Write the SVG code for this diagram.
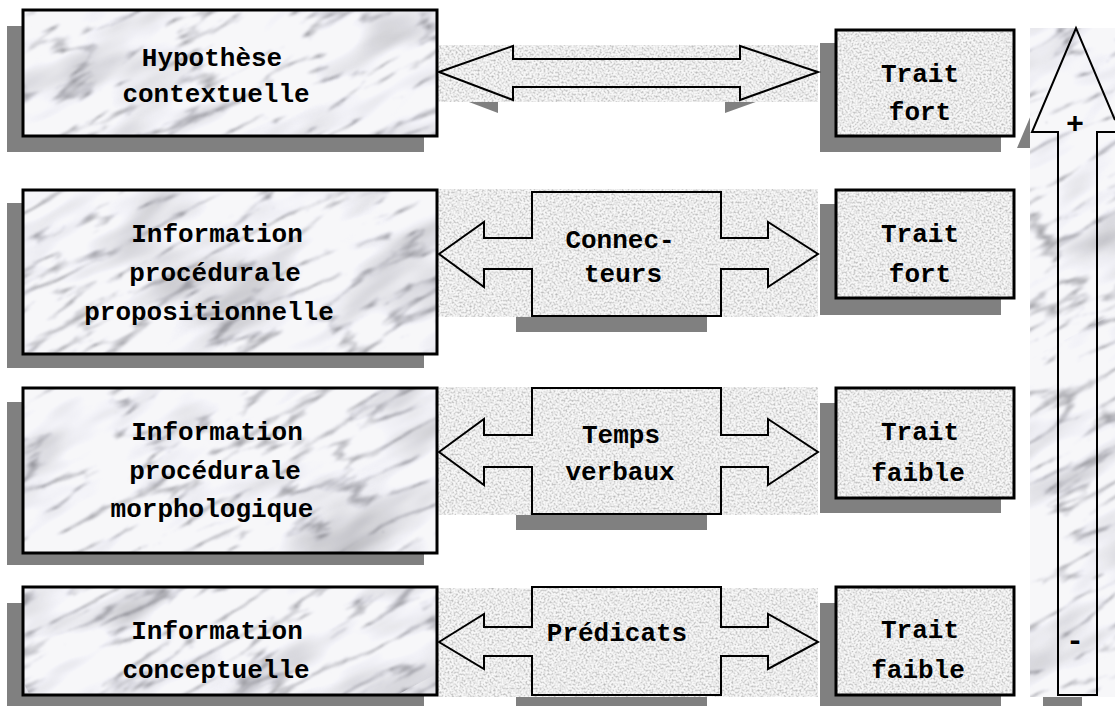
<svg xmlns="http://www.w3.org/2000/svg" width="1115" height="706" viewBox="0 0 1115 706">
  <defs>
    <!-- speckled stone texture, one tile covering the whole canvas -->
    <filter id="graniteF" filterUnits="userSpaceOnUse" x="0" y="0" width="1115" height="706" color-interpolation-filters="sRGB">
      <feTurbulence type="fractalNoise" baseFrequency="0.5" numOctaves="3" seed="7" result="n"/>
      <feColorMatrix in="n" type="matrix" values="0.6 0 0 0 0.65  0.6 0 0 0 0.65  0.6 0 0 0 0.65  0 0 0 0 1" result="g"/>
      <feComponentTransfer in="g">
        <feFuncR type="linear" slope="0.97" intercept="0"/>
        <feFuncG type="linear" slope="0.97" intercept="0"/>
        <feFuncB type="linear" slope="0.97" intercept="0"/>
      </feComponentTransfer>
    </filter>
    <pattern id="granite" patternUnits="userSpaceOnUse" x="0" y="0" width="1115" height="706">
      <rect width="1115" height="706" filter="url(#graniteF)"/>
    </pattern>
    <!-- veined marble texture, one rotated tile larger than the canvas -->
    <filter id="marbleF" filterUnits="userSpaceOnUse" x="0" y="0" width="1700" height="1500" color-interpolation-filters="sRGB">
      <feTurbulence type="turbulence" baseFrequency="0.009 0.04" numOctaves="4" seed="11" result="t"/>
      <feColorMatrix in="t" type="matrix" values="1.8 0 0 0 0.62  1.8 0 0 0 0.62  1.8 0 0 0 0.63  0 0 0 0 1" result="v0"/>
      <feGaussianBlur in="v0" stdDeviation="1.2" result="v"/>
      <feTurbulence type="fractalNoise" baseFrequency="0.007 0.022" numOctaves="3" seed="4" result="b0"/>
      <feColorMatrix in="b0" type="matrix" values="0.55 0 0 0 0.72  0.55 0 0 0 0.72  0.55 0 0 0 0.73  0 0 0 0 1" result="b"/>
      <feComposite in="v" in2="b" operator="arithmetic" k1="1" k2="0" k3="0" k4="0" result="m"/>
      <feComponentTransfer in="m">
        <feFuncR type="linear" slope="0.95" intercept="0.02"/>
        <feFuncG type="linear" slope="0.95" intercept="0.02"/>
        <feFuncB type="linear" slope="0.95" intercept="0.03"/>
        <feFuncA type="linear" slope="0" intercept="1"/>
      </feComponentTransfer>
    </filter>
    <pattern id="marble" patternUnits="userSpaceOnUse" x="-300" y="-700" width="1700" height="1500" patternTransform="rotate(-28)">
      <rect width="1700" height="1500" filter="url(#marbleF)"/>
    </pattern>
    <style>
      .shadow { fill: #808080; stroke: none; }
      .mbox { fill: url(#marble); stroke: #000; stroke-width: 3; }
      .gbox { fill: url(#granite); stroke: #000; stroke-width: 3; }
      .strip { fill: url(#granite); stroke: none; }
      .arrow { fill: none; stroke: #000; stroke-width: 2; stroke-linejoin: miter; }
      .lbl { font-family: "Liberation Mono", "Courier New", monospace; font-weight: bold; font-size: 26px; fill: #000; text-anchor: middle; }
      .sign { font-family: "Liberation Mono", "Courier New", monospace; font-weight: bold; font-size: 30px; fill: #000; text-anchor: middle; }
    </style>
  </defs>

  <!-- drop shadows -->
  <g id="shadows">
    <rect class="shadow" x="7" y="26" width="417" height="126"/>
    <rect class="shadow" x="7" y="203" width="417" height="165"/>
    <rect class="shadow" x="7" y="402" width="417" height="163"/>
    <rect class="shadow" x="7" y="603" width="417" height="103"/>
    <rect class="shadow" x="820" y="43" width="181" height="109"/>
    <rect class="shadow" x="820" y="204" width="181" height="111"/>
    <rect class="shadow" x="820" y="403" width="181" height="110"/>
    <rect class="shadow" x="820" y="603" width="181" height="103"/>
    <path class="shadow" d="M424,85 L498,59 L498,72 L725,72 L725,59 L803,85 L725,113 L725,100 L498,100 L498,113 Z"/>
    <rect class="shadow" x="516" y="208" width="191" height="124"/>
    <rect class="shadow" x="516" y="404" width="191" height="126"/>
    <rect class="shadow" x="516" y="603" width="191" height="103"/>
    <path class="shadow" d="M1061,44 L1105,148 L1082,148 L1082,711 L1043,711 L1043,148 L1017,148 Z"/>
  </g>

  <!-- stone bands behind the connectors -->
  <g id="bands">
    <rect class="strip" x="437" y="45" width="381" height="57"/>
    <rect class="strip" x="437" y="189" width="381" height="128"/>
    <rect class="strip" x="437" y="387" width="381" height="128"/>
    <rect class="strip" x="437" y="588" width="381" height="109"/>
  </g>

  <!-- left column -->
  <g id="hypothese-contextuelle">
    <rect class="mbox" x="23" y="10" width="414" height="126"/>
    <text class="lbl" x="212" y="66">Hypothèse</text>
    <text class="lbl" x="216" y="102">contextuelle</text>
  </g>
  <g id="info-propositionnelle">
    <rect class="mbox" x="23" y="190" width="414" height="164"/>
    <text class="lbl" x="217" y="242">Information</text>
    <text class="lbl" x="215" y="281">procédurale</text>
    <text class="lbl" x="209" y="320">propositionnelle</text>
  </g>
  <g id="info-morphologique">
    <rect class="mbox" x="23" y="388" width="414" height="165"/>
    <text class="lbl" x="217" y="440">Information</text>
    <text class="lbl" x="215" y="479">procédurale</text>
    <text class="lbl" x="212" y="517">morphologique</text>
  </g>
  <g id="info-conceptuelle">
    <rect class="mbox" x="23" y="587" width="414" height="108"/>
    <text class="lbl" x="217" y="639">Information</text>
    <text class="lbl" x="216" y="678">conceptuelle</text>
  </g>

  <!-- right column -->
  <g id="trait-fort-1">
    <rect class="gbox" x="836" y="30" width="178" height="106"/>
    <text class="lbl" x="920" y="82">Trait</text>
    <text class="lbl" x="920" y="120">fort</text>
  </g>
  <g id="trait-fort-2">
    <rect class="gbox" x="836" y="190" width="178" height="108"/>
    <text class="lbl" x="920" y="242">Trait</text>
    <text class="lbl" x="920" y="282">fort</text>
  </g>
  <g id="trait-faible-1">
    <rect class="gbox" x="836" y="388" width="178" height="110"/>
    <text class="lbl" x="920" y="440">Trait</text>
    <text class="lbl" x="918" y="481">faible</text>
  </g>
  <g id="trait-faible-2">
    <rect class="gbox" x="836" y="587" width="178" height="108"/>
    <text class="lbl" x="920" y="638">Trait</text>
    <text class="lbl" x="918" y="678">faible</text>
  </g>

  <!-- double arrows between the columns -->
  <g id="connectors">
    <path class="arrow" d="M439,72 L513,46 L513,59 L740,59 L740,46 L818,72 L740,100 L740,87 L513,87 L513,100 Z"/>
    <path class="arrow" d="M439,254 L484,222 L484,238 L532,238 L532,192 L721,192 L721,238 L768,238 L768,222 L818,254 L768,287 L768,269 L721,269 L721,316 L532,316 L532,269 L484,269 L484,287 Z"/>
    <path class="arrow" d="M439,452 L484,419 L484,435 L532,435 L532,388 L721,388 L721,435 L768,435 L768,419 L818,452 L768,485 L768,467 L721,467 L721,514 L532,514 L532,467 L484,467 L484,485 Z"/>
    <path class="arrow" d="M439,642 L484,614 L484,627 L532,627 L532,587 L721,587 L721,627 L768,627 L768,614 L818,642 L768,669 L768,656 L721,656 L721,695 L532,695 L532,656 L484,656 L484,669 Z"/>
  </g>
  <g id="connector-labels">
    <text class="lbl" x="620" y="248">Connec-</text>
    <text class="lbl" x="623" y="282">teurs</text>
    <text class="lbl" x="621" y="443">Temps</text>
    <text class="lbl" x="620" y="480">verbaux</text>
    <text class="lbl" x="617" y="641">Prédicats</text>
  </g>

  <!-- vertical scale arrow -->
  <g id="scale-arrow">
    <rect x="1030" y="28" width="85" height="669" fill="url(#marble)"/>
    <path class="arrow" d="M1115,120 L1076,28 L1032,132 L1058,132 L1058,695 L1097,695 L1097,132 L1115,132"/>
    <text class="sign" x="1075" y="133">+</text>
    <text class="sign" x="1075" y="650">-</text>
  </g>
</svg>
